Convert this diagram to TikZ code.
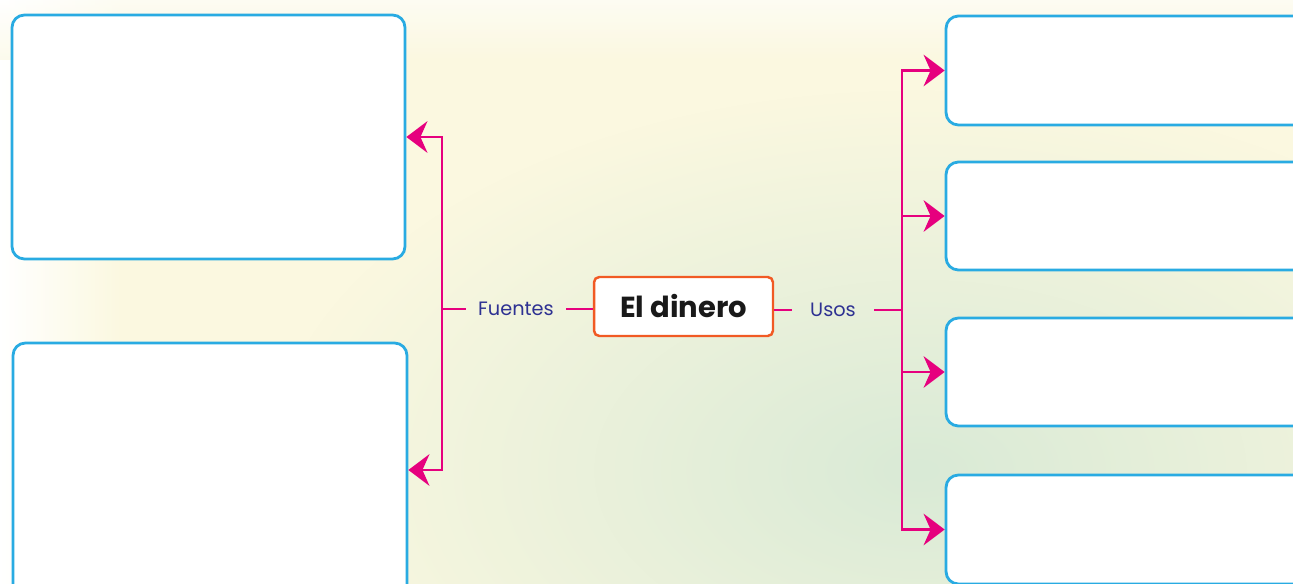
\documentclass[tikz,border=0pt]{standalone}
\usepackage{fontspec}
\setmainfont{Poppins}
\usetikzlibrary{arrows.meta,fadings}

\definecolor{boxblue}{HTML}{29ABE2}
\definecolor{linepink}{HTML}{E6007E}
\definecolor{labelblue}{HTML}{2E3192}
\definecolor{titleorange}{HTML}{F15A24}
\definecolor{bgcream}{HTML}{FBF8E0}
\definecolor{bggreen}{HTML}{D9EAD6}

\tikzfading[name=softglow, inner color=transparent!0, outer color=transparent!100]

\tikzset{
  answerbox/.style={draw=boxblue, line width=1.6pt, fill=white, rounded corners=7pt, inner sep=0pt},
  titlebox/.style={draw=titleorange, line width=1.4pt, fill=white, rounded corners=3pt, inner sep=0pt,
    font=\fontsize{16.5}{18}\selectfont\bfseries, text=black!90},
  branchlabel/.style={font=\fontsize{11}{13}\selectfont, text=labelblue, inner ysep=2pt},
  branch/.style={draw=linepink, line width=1.3pt},
  branchtip/.style={branch, -{Stealth[length=12pt,width=18pt,inset=4pt]}}
}

\begin{document}
\begin{tikzpicture}[x=0.02cm, y=-0.02cm]
    % Background
    \useasboundingbox (0,0) rectangle (1293,584);
    \clip (0,0) rectangle (1293,584);
    \fill[bgcream] (0,0) rectangle (1293,584);
    \shade[left color=white, right color=bgcream] (0,0) rectangle (120,584);
    \shade[top color=white, bottom color=bgcream, opacity=0.6] (0,0) rectangle (1293,60);
    \fill[bggreen, path fading=softglow] (920,470) ellipse (650 and 380);

    % Left boxes
    \node[answerbox, minimum width=7.86cm, minimum height=4.88cm] (fuenteA) at (208.5,137) {};
    \node[answerbox, minimum width=7.88cm, minimum height=5.08cm] (fuenteB) at (210,470) {};

    % Right boxes
    \node[answerbox, minimum width=8.4cm, minimum height=2.18cm] (usoA) at (1156,70.5) {};
    \node[answerbox, minimum width=8.4cm, minimum height=2.16cm] (usoB) at (1156,216) {};
    \node[answerbox, minimum width=8.4cm, minimum height=2.16cm] (usoC) at (1156,372) {};
    \node[answerbox, minimum width=8.4cm, minimum height=2.18cm] (usoD) at (1156,529.5) {};

    % Center
    \node[titlebox, minimum width=3.58cm, minimum height=1.18cm] (dinero) at (683.5,306.5) {El dinero};
    \node[branchlabel, inner xsep=0.24cm] (fuentes) at (516,309) {Fuentes};
    \node[branchlabel, inner xsep=0.36cm] (usos) at (833,310) {Usos};
    \coordinate (lbrace) at (442,309);
    \coordinate (rbrace) at (902,310);

    % Connectors
    \draw[branch] (fuentes.east) -- (fuentes.east -| dinero.west);
    \draw[branch] (fuentes.west) -- (lbrace);
    \draw[branch] (usos.west -| dinero.east) -- (usos.west);
    \draw[branch] (usos.east) -- (rbrace);
    \draw[branchtip] (lbrace) |- (fuenteA.east);
    \draw[branchtip] (lbrace) |- (fuenteB.east);
    \draw[branchtip] (rbrace) |- (usoA.west);
    \draw[branchtip] (rbrace) |- (usoB.west);
    \draw[branchtip] (rbrace) |- (usoC.west);
    \draw[branchtip] (rbrace) |- (usoD.west);
\end{tikzpicture}
\end{document}
